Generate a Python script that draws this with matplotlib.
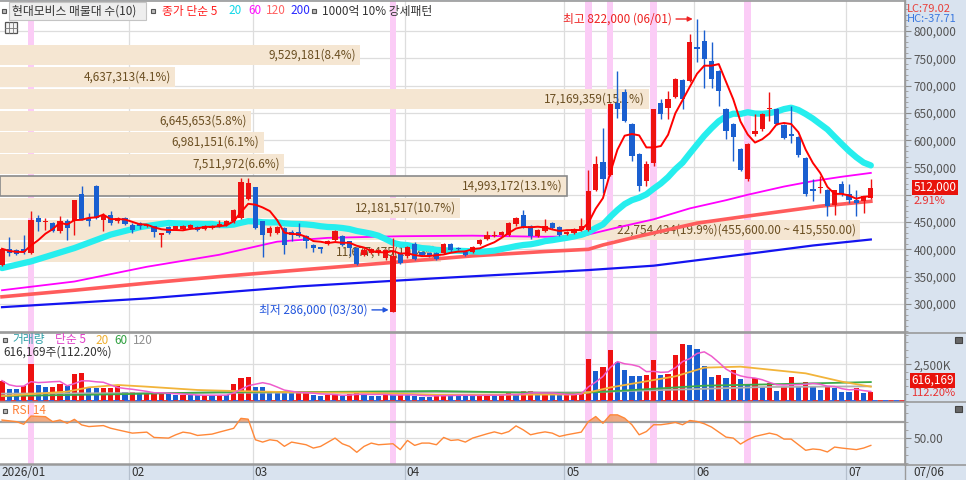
import numpy as np
import pandas as pd
import matplotlib
matplotlib.use("Agg")
import matplotlib.pyplot as plt
import matplotlib.transforms as mtransforms
from matplotlib.patches import Rectangle
from matplotlib.lines import Line2D
from matplotlib.ticker import FixedLocator, MultipleLocator, FuncFormatter

plt.rcParams['font.family'] = ['Noto Sans CJK KR', 'DejaVu Sans']

# ---------------- data ----------------
opens = [372000, 400500, 399500, 400500, 393000, 457500, 449500, 448500, 433000, 452500,
         451500, 500500, 457500, 515500, 454500, 463500, 451500, 456500, 445000, 448000,
         442000, 442000, 425500, 441000, 437000, 437000, 439000, 441000, 437000, 439000,
         442000, 445000, 451000, 457500, 492500, 514500, 451500, 430000, 430000, 439000,
         431000, 431000, 424000, 408500, 403500, 410500, 417500, 424000, 415000, 402000,
         390000, 393000, 393000, 384000, 286000, 393000, 387000, 410500, 394500, 393000,
         393000, 393000, 410500, 402500, 396000, 396000, 410500, 419000, 424000, 427000,
         427000, 445500, 462500, 442000, 425000, 433000, 448500, 441000, 428500, 430000,
         435000, 436000, 509500, 560000, 537000, 669000, 687500, 629000, 574000, 525000,
         558500, 669000, 659500, 680000, 710500, 708500, 770000, 781000, 745500, 727000,
         656500, 629000, 584500, 529000, 610500, 620000, 656500, 656500, 627000, 610500,
         606500, 568000, 511000, 511500, 509500, 482000, 519000, 500500, 490000, 488000,
         494500]
highs = [403000, 422500, 401000, 427000, 469500, 463500, 457500, 450000, 460500, 455000,
         491000, 515500, 466500, 517000, 466000, 469500, 459000, 460000, 448000, 450000,
         447000, 443500, 430500, 442000, 443000, 444000, 446000, 443000, 444000, 445000,
         454500, 453000, 474000, 531000, 531000, 515000, 452000, 443000, 443000, 441000,
         434500, 448000, 426000, 410000, 405000, 417000, 435000, 426000, 416000, 404000,
         402000, 402000, 401000, 401000, 420500, 395000, 406000, 413000, 396000, 395000,
         395000, 412000, 412000, 405000, 398000, 406000, 418000, 433000, 434000, 433000,
         450000, 460000, 471500, 444000, 438000, 455500, 450000, 443000, 433000, 439000,
         457500, 546000, 571000, 623000, 669000, 727000, 693500, 631000, 576000, 561500,
         658000, 675000, 690500, 714000, 712000, 794500, 822000, 802500, 779000, 729000,
         659000, 631000, 586000, 594000, 647500, 649000, 687500, 659000, 629000, 663000,
         608000, 569000, 528000, 534000, 511000, 509000, 525000, 519000, 509500, 498000,
         528000]
lows = [369000, 388000, 390000, 392000, 392000, 433000, 436000, 432000, 430000, 417500,
        427000, 453000, 442000, 455000, 433000, 445000, 449000, 445000, 430000, 437000,
        440000, 422500, 404000, 428000, 435000, 435000, 437000, 434000, 435000, 437000,
        440000, 443000, 449000, 455000, 490000, 438000, 385500, 425000, 428000, 392000,
        415000, 423000, 402500, 396000, 393000, 408000, 415000, 406000, 387000, 372000,
        388000, 391000, 391000, 381000, 286000, 373000, 385000, 380000, 388000, 386000,
        380500, 391000, 396000, 398000, 388000, 394000, 408000, 417000, 422000, 425000,
        425000, 443000, 439000, 419500, 423000, 431000, 437000, 425000, 427000, 428000,
        433000, 434000, 506000, 503500, 534000, 641000, 633000, 561500, 506500, 515500,
        552500, 638000, 638000, 677000, 656500, 706000, 742500, 696500, 696500, 663000,
        601500, 561500, 543000, 525000, 607500, 617000, 635000, 627000, 602000, 595500,
        570000, 498000, 488000, 503500, 460500, 463500, 498000, 485000, 460500, 466500,
        492000]
closes = [401000, 393000, 392000, 394500, 454500, 449500, 452500, 434000, 452500, 439000,
          489500, 455500, 451500, 457500, 463500, 448500, 456500, 447000, 436000, 442000,
          445000, 431000, 430000, 429000, 442000, 442000, 444000, 435000, 442000, 443500,
          447000, 452500, 472500, 523500, 521500, 439000, 427000, 439000, 441000, 407000,
          427000, 424000, 415000, 402500, 401000, 415000, 433000, 408500, 402500, 373500,
          399000, 400500, 399000, 399000, 387000, 375000, 404000, 382000, 390000, 388000,
          382000, 410500, 398000, 400500, 390000, 404000, 416500, 427000, 427000, 431000,
          448500, 457500, 441000, 424000, 436000, 442000, 439000, 427000, 431500, 437000,
          442000, 506500, 555500, 528000, 666000, 656500, 635000, 571000, 515500, 555500,
          656500, 647500, 675000, 712000, 676000, 779000, 767000, 748500, 712000, 690500,
          617000, 606500, 545000, 592500, 617000, 647500, 659500, 629000, 604500, 607500,
          572000, 500500, 506500, 514000, 479000, 508000, 500500, 491000, 485000, 497500,
          512000]
volume_k = [1385, 820, 800, 1044, 2520, 1090, 931, 976, 1158, 1044,
            1816, 1884, 931, 863, 880, 900, 1022, 590, 600, 522,
            540, 555, 570, 454, 386, 409, 395, 385, 395, 390,
            410, 405, 1135, 1589, 1657, 931, 920, 636, 620, 610,
            522, 530, 590, 409, 363, 409, 420, 341, 477, 590,
            454, 363, 350, 477, 409, 420, 405, 363, 295, 290,
            409, 454, 409, 363, 350, 340, 454, 465, 363, 375,
            568, 409, 681, 690, 454, 465, 450, 409, 454, 465,
            636, 2860, 2043, 2338, 3496, 2679, 2111, 1725, 1710, 1771,
            2792, 1771, 1839, 3133, 3882, 3814, 3519, 2384, 1657, 1771,
            1544, 2111, 1476, 1135, 1544, 976, 1203, 681, 1044, 1612,
            1044, 1317, 976, 749, 976, 908, 590, 580, 908, 549.170,
            616.169]

# 20-day average of the first days (history before the window)
ma20_early_idx = [0, 4, 10, 15, 19]
ma20_early_val = [365600, 377800, 402300, 426900, 443400]
# longer moving averages (day index, value)
ma60_idx = [0, 10, 20, 30, 38, 45, 55, 65, 75, 80, 85, 90, 95, 100, 103, 108, 112, 116, 120]
ma60_val = [325000, 341000, 368000, 390000, 414000, 421000, 424000, 425000, 423000, 424000,
            440000, 455000, 475000, 490000, 500000, 515000, 525000, 533000, 540000]
ma120_idx = [0, 10, 20, 30, 41, 54, 65, 75, 81, 83, 88, 96, 103, 113, 120]
ma120_val = [313000, 325000, 338000, 350000, 362000, 376000, 388000, 396000, 400000, 408000,
             424000, 448000, 461000, 479000, 488000]
ma200_idx = [0, 20, 41, 60, 81, 90, 96, 105, 112, 120]
ma200_val = [294000, 310000, 332000, 347000, 362000, 370000, 380000, 395000, 407000, 418000]

vma20_idx = [0, 9, 12, 16, 20, 27, 32, 41, 50, 60, 79, 81, 84, 93, 97, 102, 111, 116, 120]
vma20_val = [340, 640, 930, 1090, 976, 750, 681, 590, 568, 420, 442, 583, 921, 1680, 2271,
             2338, 1884, 1317, 976]
vma60_idx = [0, 15, 30, 45, 60, 79, 88, 97, 106, 120]
vma60_val = [340, 450, 600, 620, 680, 512, 773, 1044, 1135, 1290]
vma120_idx = [0, 30, 60, 80, 95, 105, 120]
vma120_val = [500, 560, 590, 590, 800, 950, 1000]

rsi_idx = [0, 2, 3, 4, 6, 7, 8, 9, 10, 11, 12, 14, 15, 16, 18, 20, 21, 23, 24, 25, 26, 27,
           29, 30, 32, 33, 34, 35, 36, 37, 38, 39, 40, 42, 43, 44, 46, 47, 48, 49, 50, 51,
           52, 54, 55, 56, 57, 58, 59, 60, 61, 62, 63, 64, 65, 67, 68, 69, 70, 71, 72, 73,
           74, 75, 76, 77, 78, 80, 81, 82, 83, 84, 85, 86, 87, 88, 89, 90, 91, 92, 93, 94,
           95, 96, 97, 98, 100, 101, 102, 103, 104, 106, 107, 108, 109, 111, 112, 113, 114,
           115, 116, 118, 119, 120]
rsi_val = [72.0, 70.0, 66.9, 76.8, 76.0, 70.0, 72.0, 68.1, 72.8, 66.1, 64.1, 65.3, 62.1, 60.1,
           56.2, 57.4, 51.0, 50.2, 54.2, 57.4, 56.2, 53.4, 55.0, 57.4, 62.0, 74.0, 73.0, 48.2,
           45.4, 48.2, 47.0, 40.3, 45.4, 42.2, 38.2, 40.2, 50.2, 43.4, 40.2, 33.1, 40.2, 44.2,
           42.2, 43.4, 36.3, 47.4, 41.4, 44.2, 44.2, 42.2, 51.0, 47.4, 48.2, 45.4, 50.2, 55.4,
           57.7, 55.4, 58.1, 64.9, 60.1, 54.2, 56.2, 57.7, 56.2, 52.2, 54.2, 57.4, 70.2, 76.2,
           68.1, 78.2, 78.2, 74.2, 66.3, 54.2, 58.1, 66.3, 66.3, 67.5, 69.1, 66.3, 71.4, 70.2,
           67.5, 63.5, 51.4, 50.2, 43.0, 48.2, 52.2, 56.2, 54.2, 49.0, 49.0, 35.5, 37.1, 36.3,
           33.5, 39.4, 38.2, 36.3, 38.2, 41.4]

# volume-at-price bands (bottom to top)
band_volumes = [11677475, 22754434, 12181517, 14993172, 7511972, 6981151, 6645653,
                17169359, 4637313, 9529181]
band_pcts = [10.2, 19.9, 10.7, 13.1, 6.6, 6.1, 5.8, 15.1, 4.1, 8.4]
band_low, band_high = 375500, 776000

month_starts = [18, 35, 56, 78, 96, 117]
month_labels = ['02', '03', '04', '05', '06', '07']
first_month_label = '2026/01'
last_date_label = '07/06'
strong_days = [4, 54, 81, 84, 90, 103]
high_date, low_date = '06/01', '03/30'
lc_value, hc_value = 79.02, -37.71

# ---------------- layout ----------------
W, H = 966, 480
fig = plt.figure(figsize=(W / 100, H / 100), dpi=100, facecolor='#d9e3ef')


def box(x0, y0, x1, y1):
    return [x0 / W, 1 - y1 / H, (x1 - x0) / W, (y1 - y0) / H]


def ftext(px, py, s, **kw):
    kw.setdefault('fontsize', 8.5)
    kw.setdefault('va', 'center')
    return fig.text(px / W, 1 - py / H, s, **kw)


def fsquare(px, py, w, h, fc, ec):
    fig.patches.append(Rectangle((px / W, 1 - (py + h) / H), w / W, h / H,
                                 transform=fig.transFigure, facecolor=fc,
                                 edgecolor=ec, lw=0.8))


ax_p = fig.add_axes(box(0, 1, 905, 332))
ax_v = fig.add_axes(box(0, 333, 905, 401))
ax_r = fig.add_axes(box(0, 402, 905, 464))

n = len(closes)
x = np.arange(n)
XL = (-0.276, 124.72)

for ax in (ax_p, ax_v, ax_r):
    ax.set_xlim(*XL)
    ax.set_facecolor('white')
    ax.set_xticks([])
    for s in ax.spines.values():
        s.set_color('#9a9a9a')
        s.set_linewidth(1.2)
    ax.spines['left'].set_visible(False)
    ax.yaxis.tick_right()
    ax.tick_params(axis='y', which='major', direction='out', colors='#8a8a8a',
                   labelcolor='#555555', labelsize=8.5, length=4, width=0.8, pad=2)
    ax.tick_params(axis='y', which='minor', direction='out', colors='#9a9a9a',
                   length=2, width=0.6)
    for ms in month_starts:
        ax.axvline(ms - 0.4, color='#dddddd', lw=0.9, zorder=0.5)
    for d in strong_days:
        ax.axvspan(d - 0.45, d + 0.45, color='#fbccf6', lw=0, zorder=0.6)

# ---------------- price panel ----------------
o = np.array(opens, float)
h = np.array(highs, float)
l = np.array(lows, float)
c = np.array(closes, float)

ax_p.set_ylim(248500, 855000)
price_ticks = list(range(300000, 800001, 50000))
for p in price_ticks:
    ax_p.axhline(p, color='#dddddd', lw=0.9, zorder=0.5)
ax_p.yaxis.set_major_locator(FixedLocator(price_ticks))
ax_p.yaxis.set_minor_locator(MultipleLocator(10000))
# the tick label next to the current-price box is covered by that box
ax_p.yaxis.set_major_formatter(
    FuncFormatter(lambda v, _: '' if abs(v - c[-1]) < 25000 else f'{v:,.0f}'))

edges = np.linspace(band_low, band_high, len(band_volumes) + 1)
step = edges[1] - edges[0]
vmax = max(band_volumes)
full_len = 118.8
for k, (bv, bp) in enumerate(zip(band_volumes, band_pcts)):
    length = bv / vmax * full_len
    lo = edges[k]
    current = lo <= c[-1] < lo + step
    ax_p.add_patch(Rectangle((XL[0], lo + step * 0.04), length, step * 0.92,
                             facecolor='#f5e6d2',
                             edgecolor='#8a8a8a' if current else 'none',
                             lw=1.2, zorder=1))
    label = f'{bv:,}({bp:.1f}%)'
    if bv == vmax:
        label += f'({edges[k + 1]:,.2f} ~ {lo:,.2f})'
    ax_p.text(XL[0] + length - 0.6, lo + step / 2, label, ha='right', va='center',
              fontsize=8.5, color='#6b4f22', zorder=1.5)

up = c >= o
col = np.where(up, '#ee1111', '#1a5fd0')
ax_p.vlines(x, l, h, colors=col, lw=1.0, zorder=3)
body_lo = np.minimum(o, c)
body_h = np.maximum(np.abs(c - o), 1300)
ax_p.bar(x, body_h, bottom=body_lo, width=0.72, color=col, lw=0, zorder=3.1)

close_s = pd.Series(c)
ma5 = close_s.rolling(5, min_periods=1).mean()
ma20_tail = close_s.rolling(20).mean()
ma20_x = ma20_early_idx[:-1] + list(range(ma20_early_idx[-1], n))
ma20_y = ma20_early_val[:-1] + list(ma20_tail.iloc[ma20_early_idx[-1]:])

ax_p.plot(ma200_idx, ma200_val, color='#1414f0', lw=1.6, zorder=2.2)
ax_p.plot(ma120_idx, ma120_val, color='#ff5c5c', lw=2.6, zorder=2.3)
ax_p.plot(ma60_idx, ma60_val, color='#ff00ff', lw=1.3, zorder=2.4)
ax_p.plot(ma20_x, ma20_y, color='#26eeee', lw=4.5, zorder=2.5,
          solid_capstyle='round', solid_joinstyle='round')
ax_p.plot(x, ma5, color='#ff0000', lw=1.4, zorder=4)

hi_i = int(np.argmax(h))
lo_i = int(np.argmin(l))
ax_p.annotate(f'최고 {h[hi_i]:,.0f} ({high_date})', xy=(hi_i - 0.6, h[hi_i]),
              xytext=(-15, 0), textcoords='offset points', ha='right', va='center',
              fontsize=8.5, color='#ee2222', zorder=6,
              arrowprops=dict(arrowstyle='-|>', color='#ee2222', lw=1.0,
                              mutation_scale=7, shrinkA=1, shrinkB=0))
ax_p.annotate(f'최저 {l[lo_i]:,.0f} ({low_date})', xy=(lo_i - 0.6, l[lo_i] + 3000),
              xytext=(-15, 0), textcoords='offset points', ha='right', va='center',
              fontsize=8.5, color='#2255dd', zorder=6,
              arrowprops=dict(arrowstyle='-|>', color='#2255dd', lw=1.0,
                              mutation_scale=7, shrinkA=1, shrinkB=0))

chg = (c[-1] / c[-2] - 1) * 100
ax_p.annotate(f'{c[-1]:,.0f}', xy=(1, c[-1]), xycoords=('axes fraction', 'data'),
              xytext=(6, 0.5), textcoords='offset points', ha='left', va='center',
              fontsize=8.5, color='white', annotation_clip=False, zorder=7,
              bbox=dict(boxstyle='square,pad=0.1', fc='#e8130c', ec='none'))
ax_p.annotate(f'{np.floor(chg * 100) / 100:.2f}%', xy=(1, c[-1]),
              xycoords=('axes fraction', 'data'), xytext=(6, -9),
              textcoords='offset points', ha='left', va='center', fontsize=8,
              color='#e83030', annotation_clip=False)

# ---------------- volume panel ----------------
vol = np.array(volume_k, float)
vcol = ['#ee1111' if (i == 0 or vol[i] >= vol[i - 1]) else '#1a5fd0' for i in range(n)]
ax_v.set_ylim(0, 4630)
ax_v.axhline(2500, color='#dddddd', lw=0.9, zorder=0.5)
ax_v.bar(x, vol, width=0.72, color=vcol, lw=0, zorder=3)
ax_v.plot(vma120_idx, vma120_val, color='#b0b0b0', lw=1.3, zorder=4)
ax_v.plot(vma60_idx, vma60_val, color='#3caa4a', lw=1.3, zorder=4.1)
ax_v.plot(vma20_idx, vma20_val, color='#f2b43a', lw=1.3, zorder=4.2)
ax_v.plot(x, pd.Series(vol).rolling(5, min_periods=1).mean(), color='#ee5ccc',
          lw=1.1, zorder=4.3)
ax_v.yaxis.set_major_locator(FixedLocator([2500]))
ax_v.yaxis.set_minor_locator(MultipleLocator(500))
ax_v.yaxis.set_major_formatter(FuncFormatter(lambda v, _: f'{v:,.0f}K'))
ax_v.plot(XL, [0, 0], color='#ee3333', lw=1.3, ls=(0, (3, 3)), clip_on=False, zorder=5)
ax_v.plot(XL, [0, 0], color='#3366ee', lw=1.3, ls=(3, (3, 3)), clip_on=False, zorder=5)

vpct = vol[-1] / vol[-2] * 100
vol_last = int(round(vol[-1] * 1000))
ax_v.text(1 + 6 / 905, 0.305, f'{vol_last:,}', transform=ax_v.transAxes, ha='left',
          va='center', fontsize=8.5, color='white',
          bbox=dict(boxstyle='square,pad=0.1', fc='#e8130c', ec='none'))
ax_v.text(1 + 6 / 905, 0.115, f'{vpct:.2f}%', transform=ax_v.transAxes, ha='left',
          va='center', fontsize=8, color='#e83030')

# ---------------- RSI panel ----------------
ax_r.set_ylim(19.0, 93.7)
ax_r.axhline(50, color='#dddddd', lw=0.9, zorder=0.5)
ax_r.axhline(70, color='#9f9f9f', lw=1.6, zorder=1)
rv = np.array(rsi_val)
ax_r.fill_between(rsi_idx, rv, 70, where=rv > 70, interpolate=True,
                  color='#f0a274', alpha=0.9, lw=0, zorder=2)
ax_r.plot(rsi_idx, rv, color='#ff8838', lw=1.0, zorder=3)
ax_r.yaxis.set_major_locator(FixedLocator([50]))
ax_r.yaxis.set_minor_locator(MultipleLocator(10))
ax_r.yaxis.set_major_formatter(FuncFormatter(lambda v, _: f'{v:.2f}'))
ax_r.spines['bottom'].set_linewidth(1.8)

# date strip
blend = mtransforms.blended_transform_factory(ax_r.transData, ax_r.transAxes)
ax_r.text(XL[0] + 0.2, -0.145, first_month_label, transform=blend, ha='left',
          va='center', fontsize=8.5, color='#333333')
for ms, lab in zip(month_starts, month_labels):
    ax_r.plot([ms - 0.4, ms - 0.4], [0, -0.3], transform=blend, color='#b4bfcd',
              lw=0.9, clip_on=False)
    ax_r.text(ms - 0.1, -0.145, lab, transform=blend, ha='left', va='center',
              fontsize=8.5, color='#333333')
ftext(913, 472, last_date_label, color='#333333')

# separators in the right column
for yy in (332.5, 401.5, 464.5):
    fig.lines.append(Line2D([905 / W, 1], [1 - yy / H] * 2, transform=fig.transFigure,
                            color='#9a9a9a', lw=1.2))
fig.lines.append(Line2D([905 / W] * 2, [0, 1], transform=fig.transFigure,
                        color='#9a9a9a', lw=1.0))
fsquare(955, 337, 7, 6, '#666666', '#444444')
fsquare(955, 406, 7, 6, '#666666', '#444444')

# ---------------- legends / labels ----------------
ftext(907, 8.5, f'LC:{lc_value:.2f}', color='#e8413c', fontsize=8)
ftext(907, 19.5, f'HC:{hc_value:.2f}', color='#3a78e0', fontsize=8)

fsquare(2, 9, 4, 4, '#bbbbbb', '#555555')
fig.patches.append(Rectangle((9 / W, 1 - 20 / H), 137 / W, 18 / H,
                             transform=fig.transFigure, facecolor='#eeeeee',
                             edgecolor='#c4c4c4', lw=0.8))
ftext(12, 11, '현대모비스 매물대 수(10)', color='#333333')
fsquare(151, 9, 4, 4, '#bbbbbb', '#555555')
ftext(162, 11, '종가 단순 5', color='#ff2020')
ftext(228, 11, '20', color='#10d8e8')
ftext(248, 11, '60', color='#ff10ff')
ftext(266, 11, '120', color='#ff6262')
ftext(290, 11, '200', color='#2a2aff')
fsquare(312, 9, 4, 4, '#bbbbbb', '#555555')
ftext(322, 11, '1000억 10% 강세패턴', color='#333333')
fig.patches.append(Rectangle((5 / W, 1 - 33 / H), 12 / W, 11 / H,
                             transform=fig.transFigure, facecolor='#f4f4f4',
                             edgecolor='#555555', lw=0.9))
for gx in (9, 13):
    fig.lines.append(Line2D([gx / W] * 2, [1 - 33 / H, 1 - 22 / H],
                            transform=fig.transFigure, color='#777777', lw=0.6))
fig.lines.append(Line2D([5 / W, 17 / W], [1 - 27.5 / H] * 2,
                        transform=fig.transFigure, color='#777777', lw=0.6))

fsquare(3, 338, 4, 4, '#bbbbbb', '#555555')
ftext(12, 340, '거래량', color='#30a0a8')
ftext(55, 340, '단순 5', color='#e040c8')
ftext(95, 340, '20', color='#f0b030')
ftext(114, 340, '60', color='#30a040')
ftext(133, 340, '120', color='#909090')
ftext(3, 352, f'{vol_last:,}주({vpct:.2f}%)', color='#333333')

fsquare(3, 409, 4, 4, '#bbbbbb', '#555555')
ftext(12, 411, 'RSI 14', color='#ff8038')

fig.savefig('out.png', dpi=100, facecolor=fig.get_facecolor())
